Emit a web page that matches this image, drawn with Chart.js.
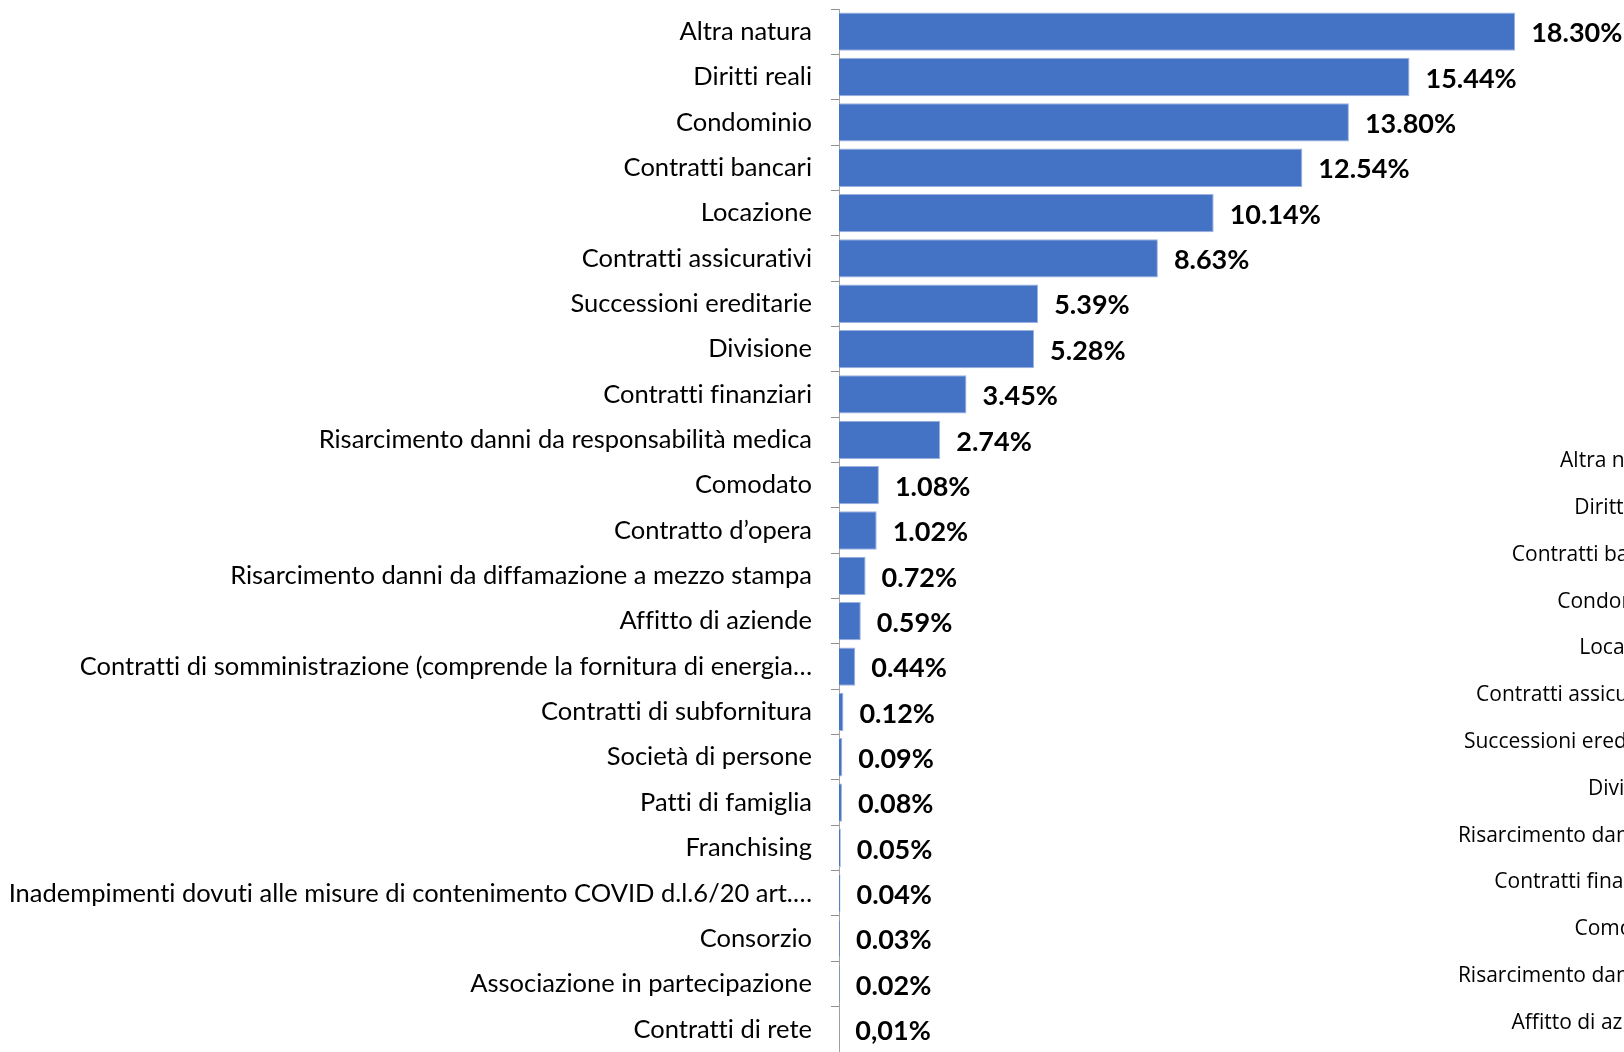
<!DOCTYPE html>
<html>
<head>
<meta charset="utf-8">
<script src="https://cdn.jsdelivr.net/npm/chart.js@4.4.1/dist/chart.umd.min.js"></script>
<style>
  html, body { margin: 0; padding: 0; background: #fff; overflow: hidden; width: 1624px; height: 1052px; }
  #main { position: absolute; left: 0; top: 0; }
  #side { position: absolute; left: 1400px; top: 438px; }
</style>
</head>
<body>
<canvas id="main" width="1624" height="1052"></canvas>
<canvas id="side" width="400" height="608"></canvas>
<script>
// categories, top to bottom
const categories = [
    'Altra natura',
    'Diritti reali',
    'Condominio',
    'Contratti bancari',
    'Locazione',
    'Contratti assicurativi',
    'Successioni ereditarie',
    'Divisione',
    'Contratti finanziari',
    'Risarcimento danni da responsabilità medica',
    'Comodato',
    'Contratto d\u2019opera',
    'Risarcimento danni da diffamazione a mezzo stampa',
    'Affitto di aziende',
    'Contratti di somministrazione (comprende la fornitura di energia\u2026',
    'Contratti di subfornitura',
    'Società di persone',
    'Patti di famiglia',
    'Franchising',
    'Inadempimenti dovuti alle misure di contenimento COVID d.l.6/20 art.\u2026',
    'Consorzio',
    'Associazione in partecipazione',
    'Contratti di rete'
];

// share in percent
const shares = [18.30, 15.44, 13.80, 12.54, 10.14, 8.63, 5.39, 5.28, 3.45, 2.74,
                1.08, 1.02, 0.72, 0.59, 0.44, 0.12, 0.09, 0.08, 0.05, 0.04, 0.03, 0.02, 0.01];

// labels as printed next to the bars
const shareLabels = ['18.30%', '15.44%', '13.80%', '12.54%', '10.14%', '8.63%', '5.39%', '5.28%',
                     '3.45%', '2.74%', '1.08%', '1.02%', '0.72%', '0.59%', '0.44%', '0.12%',
                     '0.09%', '0.08%', '0.05%', '0.04%', '0.03%', '0.02%', '0,01%'];

// second chart, cut off at the right edge (only its labels show)
const sideCategories = [
    'Altra natura',
    'Diritti reali',
    'Contratti bancari',
    'Condominio',
    'Locazione',
    'Contratti assicurativi',
    'Successioni ereditarie',
    'Divisione',
    'Risarcimento danni da',
    'Contratti finanziari',
    'Comodato',
    'Risarcimento danni da',
    'Affitto di aziende'
];

// no "tt" ligatures
const plainText = {
    id: 'plainText',
    beforeDraw(chart) {
        chart.ctx.textRendering = 'optimizeSpeed';
    }
};

const valueLabels = {
    id: 'valueLabels',
    afterDatasetsDraw(chart) {
        const ctx = chart.ctx;
        const meta = chart.getDatasetMeta(0);
        ctx.save();
        ctx.font = 'bold 27px Lato';
        ctx.fillStyle = '#000';
        ctx.textAlign = 'left';
        ctx.textBaseline = 'middle';
        meta.data.forEach((bar, i) => {
            ctx.fillText(shareLabels[i], bar.x + 16, bar.y + 2);
        });
        ctx.restore();
    }
};

// axis fills the full height, no room kept for half labels
function fitAxis(width) {
    return function (scale) {
        scale.width = width;
        scale.paddingTop = 0;
        scale.paddingBottom = 0;
    };
}

new Chart(document.getElementById('main'), {
    type: 'bar',
    data: {
        labels: categories,
        datasets: [{
            data: shares,
            backgroundColor: '#4472C4',
            borderColor: '#9db2de',
            borderWidth: 1,
            barPercentage: 0.845,
            categoryPercentage: 1
        }]
    },
    options: {
        indexAxis: 'y',
        responsive: false,
        animation: false,
        layout: { autoPadding: false, padding: { top: 9, right: 46, bottom: 0, left: 0 } },
        plugins: {
            legend: { display: false },
            tooltip: { enabled: false }
        },
        scales: {
            x: { display: false, min: 0, max: 20 },
            y: {
                offset: true,
                afterFit: fitAxis(839),
                border: { display: true, color: '#a0a0a0', width: 1 },
                grid: { drawOnChartArea: false, tickLength: 8, color: '#909090', offset: true },
                ticks: { autoSkip: false, padding: 19, color: '#000', font: { family: 'Lato', size: 25.5 } }
            }
        }
    },
    plugins: [plainText, valueLabels]
});

new Chart(document.getElementById('side'), {
    type: 'bar',
    data: { labels: sideCategories, datasets: [] },
    options: {
        indexAxis: 'y',
        responsive: false,
        animation: false,
        layout: { autoPadding: false, padding: 0 },
        plugins: { legend: { display: false }, tooltip: { enabled: false } },
        scales: {
            x: { display: false },
            y: {
                offset: true,
                afterFit: fitAxis(277),
                border: { display: false },
                grid: { display: false, drawTicks: false },
                ticks: { autoSkip: false, padding: 0, color: '#000', font: { family: 'Open Sans', size: 21 } }
            }
        }
    },
    plugins: [plainText]
});
</script>
</body>
</html>
